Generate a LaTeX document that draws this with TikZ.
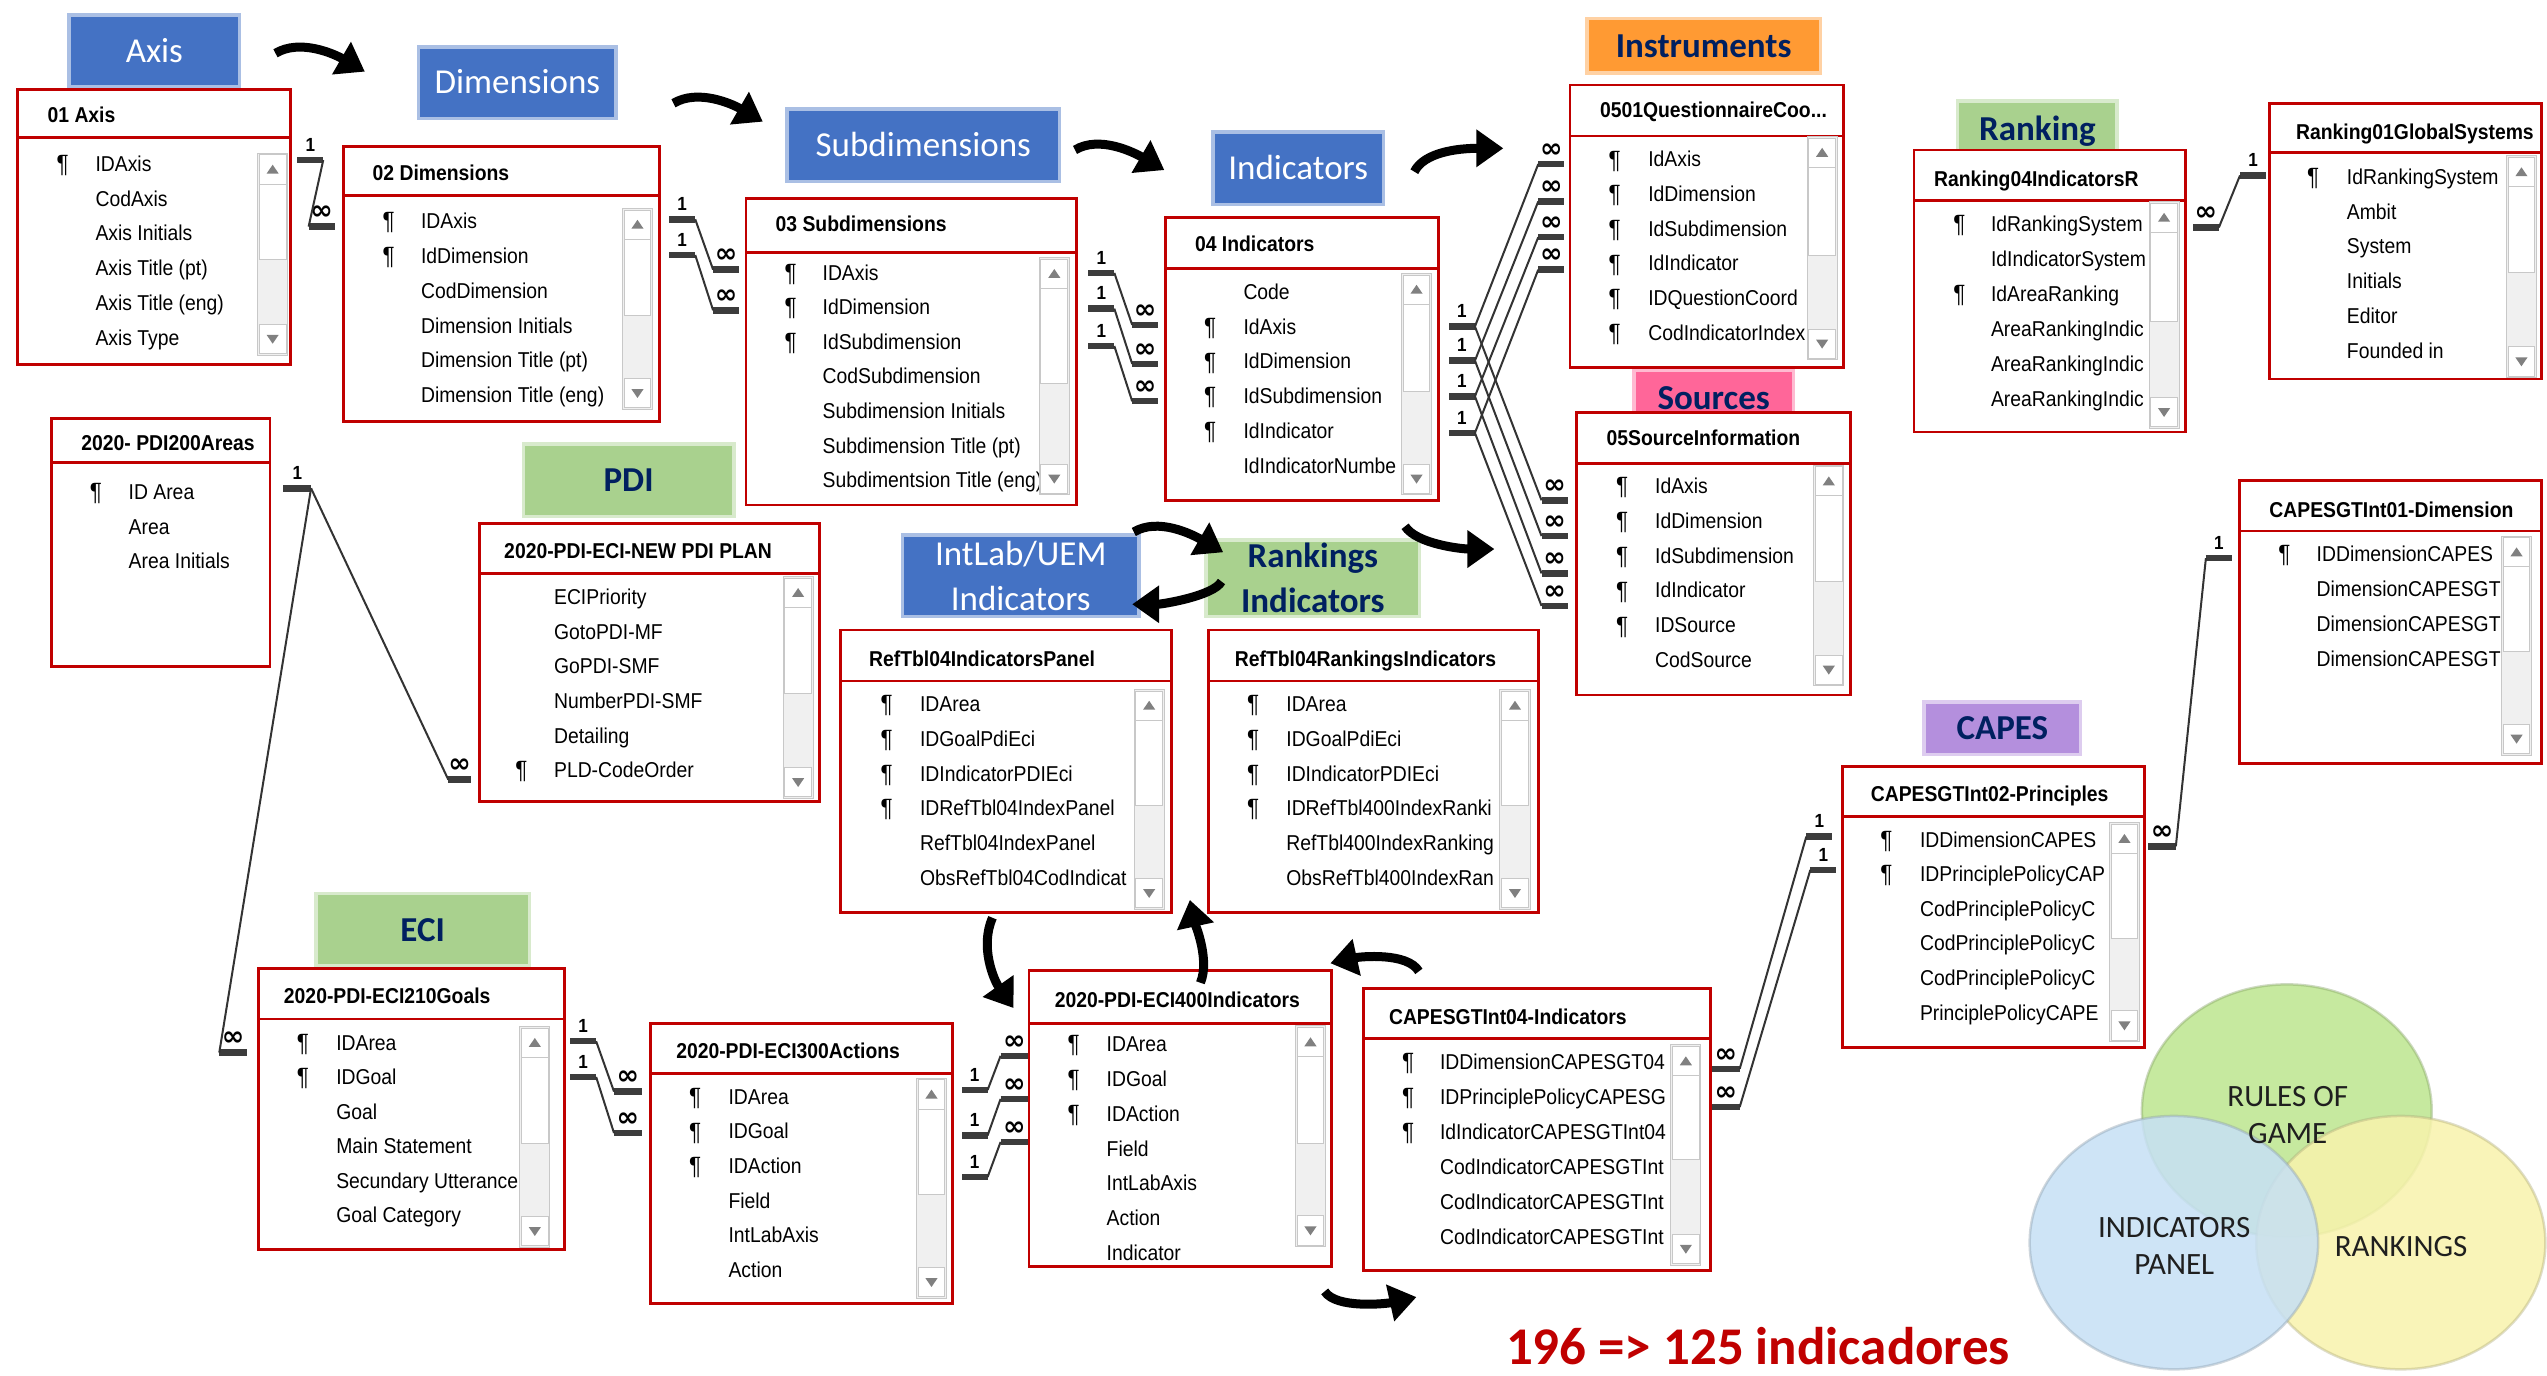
\documentclass[tikz,border=0pt]{standalone}
\usepackage{fontspec}
\usepackage{tikz}
\usetikzlibrary{arrows.meta}

\newfontfamily\tblfont[FakeStretch=0.9]{Liberation Sans}
\newfontfamily\bannerfont{Carlito}
\newfontfamily\symfont{DejaVu Sans}

\definecolor{tblred}{HTML}{C00000}
\definecolor{barblue}{HTML}{4472C4}
\definecolor{bargreen}{HTML}{A9D18E}
\definecolor{barorange}{HTML}{FF9A33}
\definecolor{barpink}{HTML}{FF6699}
\definecolor{barpurple}{HTML}{B48FDD}
\definecolor{navy}{HTML}{002060}
\definecolor{relgray}{HTML}{333333}
\definecolor{bargray}{HTML}{3C3C3C}
\definecolor{sbgray}{HTML}{F0F0F0}
\definecolor{sbline}{HTML}{C8C8C8}
\definecolor{sbarrowc}{HTML}{808080}
\definecolor{venngreen}{HTML}{BDE68F}
\definecolor{vennblue}{HTML}{C6E0F5}
\definecolor{vennyellow}{HTML}{F8F3AC}
\definecolor{venntext}{HTML}{1F1F1F}

\newcommand{\fldfont}{\tblfont\fontsize{21.5}{25}\selectfont}
\newcommand{\hdrfont}{\tblfont\bfseries\fontsize{21.5}{25}\selectfont}

% scroll bar: x, top, bottom, end of thumb
\newcommand{\scrollbar}[4]{%
  \draw[sbtrack] (#1,#2) rectangle (#1+18.5,#3);
  \draw[sbbtn] (#1+1,#2+1) rectangle (#1+17.5,#2+19);
  \draw[sbbtn] (#1+1,#2+19) rectangle (#1+17.5,#4);
  \draw[sbbtn] (#1+1,#3-19) rectangle (#1+17.5,#3-1);
  \fill[sbarrowc] (#1+9.25,#2+7) -- (#1+5.5,#2+12.5) -- (#1+13,#2+12.5) -- cycle;
  \fill[sbarrowc] (#1+9.25,#3-7) -- (#1+5.5,#3-12.5) -- (#1+13,#3-12.5) -- cycle;
}
% relation ends
\newcommand{\onebar}[2]{\draw[relbar] (#1) -- ++(#2,0) node[midway,relone] (#1-n) {1};}
\newcommand{\manybar}[2]{\draw[relbar] (#1) -- ++(#2,0) node[midway,relmany] (#1-n) {∞};}

\tikzset{
  tblbox/.style={draw=tblred, line width=2.8pt, fill=white},
  tblline/.style={draw=tblred, line width=2.8pt},
  hdr/.style={font=\hdrfont, anchor=west, inner sep=0pt, text height=15.4pt, text depth=0pt},
  fld/.style={font=\fldfont, anchor=west, inner sep=0pt, text height=15.4pt, text depth=0pt},
  pk/.style={font=\tblfont\fontsize{25}{25}\selectfont, inner sep=0pt, text height=17.9pt, text depth=0pt},
  sbtrack/.style={fill=sbgray, draw=sbline, line width=1pt},
  sbbtn/.style={fill=white, draw=sbline, line width=1pt},
  rel/.style={draw=relgray, line width=2pt},
  relbar/.style={draw=bargray, line width=6.5pt},
  relone/.style={above=5.5pt, inner sep=0pt, font=\tblfont\bfseries\fontsize{19}{19}\selectfont},
  relmany/.style={above=3.5pt, inner sep=0pt, font=\symfont\bfseries\fontsize{27}{27}\selectfont},
  banner/.style={fill=#1, draw=#1, draw opacity=.45, line width=7pt, inner sep=0pt, align=center},
  bluebanner/.style={banner=barblue, text=white, font=\bannerfont\fontsize{35}{45}\selectfont},
  navybanner/.style={banner=#1, text=navy, font=\bannerfont\bfseries\fontsize{35}{45}\selectfont},
  oneline/.style={text height=22.5pt, text depth=0pt},
  bigarrow/.style={line width=9pt, -{Triangle[length=27pt,width=36pt]}},
  venn/.style={fill=#1, fill opacity=.85, draw=#1!70!black, draw opacity=.4, line width=2.5pt},
  venntxt/.style={text=venntext, align=center, font=\bannerfont\fontsize{31}{36.7}\selectfont},
}

\begin{document}
\begin{tikzpicture}[x=1.6244pt,y=-1.6244pt]
\useasboundingbox (0,0) rectangle (1568,847);
\fill[white] (0,0) rectangle (1568,847);

% banners
\node[bluebanner, oneline, minimum width=167pt, minimum height=68pt] (axisban) at (95,31.3) {Axis};
\node[bluebanner, oneline, minimum width=194pt, minimum height=68pt] (dimban) at (318.5,50.8) {Dimensions};
\node[bluebanner, oneline, minimum width=269pt, minimum height=69pt] (subban) at (568.4,89.3) {Subdimensions};
\node[bluebanner, oneline, minimum width=167pt, minimum height=69pt] (indban) at (799.2,103.6) {Indicators};
\node[navybanner=barorange, oneline, minimum width=230pt, minimum height=51pt] (instban) at (1048.8,28.2) {Instruments};
\node[navybanner=bargreen, oneline, minimum width=156pt, minimum height=53pt] (rankban) at (1254.3,79.5) {Ranking};
\node[navybanner=barpink, oneline, minimum width=156pt, minimum height=51pt] (srcban) at (1055,245) {Sources};
\node[navybanner=bargreen, oneline, minimum width=207pt, minimum height=69pt] (pdiban) at (387,295.5) {PDI};
\node[navybanner=bargreen, oneline, minimum width=210pt, minimum height=69pt] (eciban) at (260.2,572.5) {ECI};
\node[bluebanner, minimum width=233pt, minimum height=78pt] (intban) at (628.4,354.5) {IntLab/UEM\\Indicators};
\node[navybanner=bargreen, minimum width=210pt, minimum height=73pt] (rkiban) at (808.2,356) {Rankings\\Indicators};
\node[navybanner=barpurple, oneline, minimum width=153pt, minimum height=49pt] (capesban) at (1232.7,448.4) {CAPES};

% 01 Axis
\draw[tblbox] (11,55.2) rectangle (179,224.3);
\draw[tblline] (11,84.8) -- (179,84.8);
\node[hdr] (axis) at (29.2,70.8) {01 Axis};
\begin{scope}
  \clip (11,84.8) rectangle (158.6,224.3);
  \foreach \f [count=\i from 0] in {IDAxis,CodAxis,Axis Initials,Axis Title (pt),Axis Title (eng),Axis Type}
    \node[fld] (axis-\i) at (58.7,100.6+21.5*\i) {\f};
\end{scope}
\foreach \i in {0} \node[pk] (axis-k\i) at (38.6,100.6+21.5*\i) {¶};
\scrollbar{158.6}{94.4}{218.6}{160}

% 02 Dimensions
\draw[tblbox] (211.4,90.3) rectangle (406.1,259.6);
\draw[tblline] (211.4,120.5) -- (406.1,120.5);
\node[hdr] (dims) at (229.3,106.1) {02 Dimensions};
\begin{scope}
  \clip (211.4,120.5) rectangle (383.2,259.6);
  \foreach \f [count=\i from 0] in {IDAxis,IdDimension,CodDimension,Dimension Initials,Dimension Title (pt),Dimension Title (eng)}
    \node[fld] (dims-\i) at (259.1,136+21.45*\i) {\f};
\end{scope}
\foreach \i in {0,1} \node[pk] (dims-k\i) at (239.3,136+21.45*\i) {¶};
\scrollbar{383.2}{128.3}{252}{194}

% 03 Subdimensions
\draw[tblbox] (459.2,122.1) rectangle (662.7,310.9);
\draw[tblline] (459.2,155.5) -- (662.7,155.5);
\node[hdr] (subdims) at (477.4,137.5) {03 Subdimensions};
\begin{scope}
  \clip (459.2,155.5) rectangle (639.8,310.9);
  \foreach \f [count=\i from 0] in {IDAxis,IdDimension,IdSubdimension,CodSubdimension,Subdimension Initials,Subdimension Title (pt),Subdimentsion Title (eng)}
    \node[fld] (subdims-\i) at (506.3,167.7+21.3*\i) {\f};
\end{scope}
\foreach \i in {0,1,2} \node[pk] (subdims-k\i) at (486.8,167.7+21.3*\i) {¶};
\scrollbar{639.8}{158.6}{304.7}{235.8}

% 04 Indicators
\draw[tblbox] (717.4,134) rectangle (885.7,308.2);
\draw[tblline] (717.4,165.2) -- (885.7,165.2);
\node[hdr] (inds) at (735.6,149.8) {04 Indicators};
\begin{scope}
  \clip (717.4,165.2) rectangle (862.8,308.2);
  \foreach \f [count=\i from 0] in {Code,IdAxis,IdDimension,IdSubdimension,IdIndicator,IdIndicatorNumbe}
    \node[fld] (inds-\i) at (765.4,179.5+21.4*\i) {\f};
\end{scope}
\foreach \i in {1,2,3,4} \node[pk] (inds-k\i) at (745,179.5+21.4*\i) {¶};
\scrollbar{862.8}{168.3}{304.7}{241.1}

% 0501 Questionnaire
\draw[tblbox] (966.5,52.3) rectangle (1135,226.4);
\draw[tblline] (966.5,83.7) -- (1135,83.7);
\node[hdr] (quest) at (984.9,67.7) {0501QuestionnaireCoo...};
\begin{scope}
  \clip (966.5,83.7) rectangle (1112.5,226.4);
  \foreach \f [count=\i from 0] in {IdAxis,IdDimension,IdSubdimension,IdIndicator,IDQuestionCoord,CodIndicatorIndex}
    \node[fld] (quest-\i) at (1014.6,98+21.35*\i) {\f};
\end{scope}
\foreach \i in {0,...,5} \node[pk] (quest-k\i) at (994,98+21.35*\i) {¶};
\scrollbar{1112.5}{84}{221.6}{157}

% 05 Source information
\draw[tblbox] (970.7,253.8) rectangle (1139.3,427.9);
\draw[tblline] (970.7,285.2) -- (1139.3,285.2);
\node[hdr] (source) at (989,269.8) {05SourceInformation};
\begin{scope}
  \clip (970.7,285.2) rectangle (1116.6,427.9);
  \foreach \f [count=\i from 0] in {IdAxis,IdDimension,IdSubdimension,IdIndicator,IDSource,CodSource}
    \node[fld] (source-\i) at (1018.8,299.2+21.4*\i) {\f};
\end{scope}
\foreach \i in {0,...,4} \node[pk] (source-k\i) at (998.6,299.2+21.4*\i) {¶};
\scrollbar{1116.6}{286.3}{422.3}{358}

% Ranking 04
\draw[tblbox] (1178.3,92.3) rectangle (1345.6,266);
\draw[tblline] (1178.3,123.5) -- (1345.6,123.5);
\node[hdr] (rank4) at (1190.6,109.8) {Ranking04IndicatorsR};
\begin{scope}
  \clip (1178.3,123.5) rectangle (1323,266);
  \foreach \f [count=\i from 0] in {IdRankingSystem,IdIndicatorSystem,IdAreaRanking,AreaRankingIndic,AreaRankingIndic,AreaRankingIndic}
    \node[fld] (rank4-\i) at (1225.6,137.5+21.55*\i) {\f};
\end{scope}
\foreach \i in {0,2} \node[pk] (rank4-k\i) at (1206.2,137.5+21.55*\i) {¶};
\scrollbar{1323}{124}{263.7}{198}

% Ranking 01
\draw[tblbox] (1397,63.6) rectangle (1564.7,233.3);
\draw[tblline] (1397,94) -- (1564.7,94);
\node[hdr] (rank1) at (1413.4,81) {Ranking01GlobalSystems};
\begin{scope}
  \clip (1397,94) rectangle (1543,233.3);
  \foreach \f [count=\i from 0] in {IdRankingSystem,Ambit,System,Initials,Editor,Founded in}
    \node[fld] (rank1-\i) at (1444.7,108.8+21.4*\i) {\f};
\end{scope}
\foreach \i in {0} \node[pk] (rank1-k\i) at (1424,108.8+21.4*\i) {¶};
\scrollbar{1543}{96}{232.5}{168}

% 2020- PDI200Areas
\draw[tblbox] (31.7,257.5) rectangle (166.2,410.4);
\draw[tblline] (31.7,284.6) -- (166.2,284.6);
\node[hdr] (areas) at (50,272.9) {2020- PDI200Areas};
\foreach \f [count=\i from 0] in {ID Area,Area,Area Initials}
  \node[fld] (areas-\i) at (79.1,302.7+21.4*\i) {\f};
\foreach \i in {0} \node[pk] (areas-k\i) at (59,302.7+21.4*\i) {¶};

% NEW PDI PLAN
\draw[tblbox] (295,322.2) rectangle (504.5,493.5);
\draw[tblline] (295,353) -- (504.5,353);
\node[hdr] (plan) at (310.3,339) {2020-PDI-ECI-NEW PDI PLAN};
\begin{scope}
  \clip (295,353) rectangle (482.1,493.5);
  \foreach \f [count=\i from 0] in {ECIPriority,GotoPDI-MF,GoPDI-SMF,NumberPDI-SMF,Detailing,PLD-CodeOrder}
    \node[fld] (plan-\i) at (341,367.3+21.35*\i) {\f};
\end{scope}
\foreach \i in {5} \node[pk] (plan-k\i) at (321,367.3+21.35*\i) {¶};
\scrollbar{482.1}{355}{491.5}{426.8}

% RefTbl04IndicatorsPanel
\draw[tblbox] (517.6,387.8) rectangle (721.1,561.9);
\draw[tblline] (517.6,419.2) -- (721.1,419.2);
\node[hdr] (refpanel) at (534.9,405.3) {RefTbl04IndicatorsPanel};
\begin{scope}
  \clip (517.6,419.2) rectangle (698.2,561.9);
  \foreach \f [count=\i from 0] in {IDArea,IDGoalPdiEci,IDIndicatorPDIEci,IDRefTbl04IndexPanel,RefTbl04IndexPanel,ObsRefTbl04CodIndicat}
    \node[fld] (refpanel-\i) at (566.3,433.4+21.35*\i) {\f};
\end{scope}
\foreach \i in {0,...,3} \node[pk] (refpanel-k\i) at (545.9,433.4+21.35*\i) {¶};
\scrollbar{698.2}{424.4}{559.8}{495.6}

% RefTbl04RankingsIndicators
\draw[tblbox] (743.8,387.8) rectangle (947,561.9);
\draw[tblline] (743.8,419.2) -- (947,419.2);
\node[hdr] (refrank) at (760.1,405.3) {RefTbl04RankingsIndicators};
\begin{scope}
  \clip (743.8,419.2) rectangle (923.4,561.9);
  \foreach \f [count=\i from 0] in {IDArea,IDGoalPdiEci,IDIndicatorPDIEci,IDRefTbl400IndexRanki,RefTbl400IndexRanking,ObsRefTbl400IndexRan}
    \node[fld] (refrank-\i) at (791.8,433.4+21.35*\i) {\f};
\end{scope}
\foreach \i in {0,...,3} \node[pk] (refrank-k\i) at (771.4,433.4+21.35*\i) {¶};
\scrollbar{923.4}{424.4}{559.8}{495.6}

% CAPESGTInt01-Dimension
\draw[tblbox] (1378.5,295.9) rectangle (1564.7,469.9);
\draw[tblline] (1378.5,326.9) -- (1564.7,326.9);
\node[hdr] (capes1) at (1397,314) {CAPESGTInt01-Dimension};
\begin{scope}
  \clip (1378.5,326.9) rectangle (1540,469.9);
  \foreach \f [count=\i from 0] in {IDDimensionCAPES,DimensionCAPESGT,DimensionCAPESGT,DimensionCAPESGT}
    \node[fld] (capes1-\i) at (1426.1,341+21.45*\i) {\f};
\end{scope}
\foreach \i in {0} \node[pk] (capes1-k\i) at (1406.4,341+21.45*\i) {¶};
\scrollbar{1540}{330}{464.8}{401}

% CAPESGTInt02-Principles
\draw[tblbox] (1134.3,472) rectangle (1320.1,644.7);
\draw[tblline] (1134.3,502.8) -- (1320.1,502.8);
\node[hdr] (capes2) at (1151.6,488.4) {CAPESGTInt02-Principles};
\begin{scope}
  \clip (1134.3,502.8) rectangle (1298.6,644.7);
  \foreach \f [count=\i from 0] in {IDDimensionCAPES,IDPrinciplePolicyCAP,CodPrinciplePolicyC,CodPrinciplePolicyC,CodPrinciplePolicyC,PrinciplePolicyCAPE}
    \node[fld] (capes2-\i) at (1181.9,516.7+21.3*\i) {\f};
\end{scope}
\foreach \i in {0,1} \node[pk] (capes2-k\i) at (1161.3,516.7+21.3*\i) {¶};
\scrollbar{1298.6}{506.4}{641.3}{577.6}

% ECI210Goals
\draw[tblbox] (159,596.1) rectangle (347.5,769.1);
\draw[tblline] (159,627.3) -- (347.5,627.3);
\node[hdr] (goals) at (174.7,613) {2020-PDI-ECI210Goals};
\begin{scope}
  \clip (159,627.3) rectangle (320,769.1);
  \foreach \f [count=\i from 0] in {IDArea,IDGoal,Goal,Main Statement,Secundary Utterance,Goal Category}
    \node[fld] (goals-\i) at (206.9,641.7+21.27*\i) {\f};
\end{scope}
\foreach \i in {0,1} \node[pk] (goals-k\i) at (186.5,641.7+21.27*\i) {¶};
\scrollbar{320}{632}{767.9}{703.8}

% ECI300Actions
\draw[tblbox] (400.5,630) rectangle (586.2,802.3);
\draw[tblline] (400.5,660.7) -- (586.2,660.7);
\node[hdr] (actions) at (416.2,647) {2020-PDI-ECI300Actions};
\begin{scope}
  \clip (400.5,660.7) rectangle (564.2,802.3);
  \foreach \f [count=\i from 0] in {IDArea,IDGoal,IDAction,Field,IntLabAxis,Action}
    \node[fld] (actions-\i) at (448.4,675.1+21.34*\i) {\f};
\end{scope}
\foreach \i in {0,1,2} \node[pk] (actions-k\i) at (428,675.1+21.34*\i) {¶};
\scrollbar{564.2}{663.8}{799.3}{735.6}

% ECI400Indicators
\draw[tblbox] (633.5,597.6) rectangle (819.8,779.8);
\draw[tblline] (633.5,630) -- (819.8,630);
\node[hdr] (eci400) at (649.2,615.2) {2020-PDI-ECI400Indicators};
\begin{scope}
  \clip (633.5,630) rectangle (797.5,779.8);
  \foreach \f [count=\i from 0] in {IDArea,IDGoal,IDAction,Field,IntLabAxis,Action,Indicator}
    \node[fld] (eci400-\i) at (681.2,642.7+21.42*\i) {\f};
\end{scope}
\foreach \i in {0,1,2} \node[pk] (eci400-k\i) at (660.9,642.7+21.42*\i) {¶};
\scrollbar{797.5}{631.6}{767.5}{703.8}

% CAPESGTInt04-Indicators
\draw[tblbox] (839.3,608.4) rectangle (1052.8,782.3);
\draw[tblline] (839.3,639.2) -- (1052.8,639.2);
\node[hdr] (capes4) at (855,625.9) {CAPESGTInt04-Indicators};
\begin{scope}
  \clip (839.3,639.2) rectangle (1028.6,782.3);
  \foreach \f [count=\i from 0] in {IDDimensionCAPESGT04,IDPrinciplePolicyCAPESG,IdIndicatorCAPESGTInt04,CodIndicatorCAPESGTInt,CodIndicatorCAPESGTInt,CodIndicatorCAPESGTInt}
    \node[fld] (capes4-\i) at (886.4,653.6+21.55*\i) {\f};
\end{scope}
\foreach \i in {0,1,2} \node[pk] (capes4-k\i) at (866.9,653.6+21.55*\i) {¶};
\scrollbar{1028.6}{643.3}{778.8}{714}

% relations
\coordinate (ad1) at (199,98.5);
\coordinate (adm) at (190,139.5);
\onebar{ad1}{-16} \manybar{adm}{16}
\draw[rel] (ad1) -- (adm);

\coordinate (ds1a) at (428,135);
\coordinate (ds1b) at (428,157);
\coordinate (dsma) at (439,166);
\coordinate (dsmb) at (439,191);
\onebar{ds1a}{-16} \onebar{ds1b}{-16}
\manybar{dsma}{16} \manybar{dsmb}{16}
\draw[rel] (ds1a) -- (dsma);
\draw[rel] (ds1b) -- (dsmb);

\coordinate (si1a) at (686,168);
\coordinate (si1b) at (686,190);
\coordinate (si1c) at (686,213);
\coordinate (sima) at (697,200);
\coordinate (simb) at (697,224);
\coordinate (simc) at (697,247);
\onebar{si1a}{-16} \onebar{si1b}{-16} \onebar{si1c}{-16}
\manybar{sima}{16} \manybar{simb}{16} \manybar{simc}{16}
\draw[rel] (si1a) -- (sima);
\draw[rel] (si1b) -- (simb);
\draw[rel] (si1c) -- (simc);

\coordinate (ind1a) at (908,201);
\coordinate (ind1b) at (908,222);
\coordinate (ind1c) at (908,244);
\coordinate (ind1d) at (908,266.5);
\coordinate (qstma) at (947,101);
\coordinate (qstmb) at (947,124);
\coordinate (qstmc) at (947,146);
\coordinate (qstmd) at (947,166);
\coordinate (srcma) at (949,308);
\coordinate (srcmb) at (949,330);
\coordinate (srcmc) at (949,353);
\coordinate (srcmd) at (949,373);
\onebar{ind1a}{-16} \onebar{ind1b}{-16} \onebar{ind1c}{-16} \onebar{ind1d}{-16}
\manybar{qstma}{16} \manybar{qstmb}{16} \manybar{qstmc}{16} \manybar{qstmd}{16}
\manybar{srcma}{16} \manybar{srcmb}{16} \manybar{srcmc}{16} \manybar{srcmd}{16}
\draw[rel] (ind1a) -- (qstma);
\draw[rel] (ind1b) -- (qstmb);
\draw[rel] (ind1c) -- (qstmc);
\draw[rel] (ind1d) -- (qstmd);
\draw[rel] (ind1a) -- (srcma);
\draw[rel] (ind1b) -- (srcmb);
\draw[rel] (ind1c) -- (srcmc);
\draw[rel] (ind1d) -- (srcmd);

\coordinate (rkm) at (1366,140);
\coordinate (rk1) at (1379,108);
\manybar{rkm}{-16} \onebar{rk1}{16}
\draw[rel] (rkm) -- (rk1);

\coordinate (ar1) at (191.5,300.6);
\coordinate (arpm) at (276,480);
\coordinate (argm) at (135,648);
\onebar{ar1}{-17} \manybar{arpm}{14} \manybar{argm}{17}
\draw[rel] (ar1) -- (arpm);
\draw[rel] (ar1) -- (argm);

\coordinate (ga1a) at (367,641);
\coordinate (ga1b) at (367,663);
\coordinate (gama) at (378,672);
\coordinate (gamb) at (378,697.5);
\onebar{ga1a}{-16} \onebar{ga1b}{-16}
\manybar{gama}{17} \manybar{gamb}{17}
\draw[rel] (ga1a) -- (gama);
\draw[rel] (ga1b) -- (gamb);

\coordinate (ae1a) at (608,671);
\coordinate (ae1b) at (608,699);
\coordinate (ae1c) at (608,724.6);
\coordinate (aema) at (616,650);
\coordinate (aemb) at (616,676.5);
\coordinate (aemc) at (616,703);
\onebar{ae1a}{-16} \onebar{ae1b}{-16} \onebar{ae1c}{-16}
\manybar{aema}{17} \manybar{aemb}{17} \manybar{aemc}{17}
\draw[rel] (ae1a) -- (aema);
\draw[rel] (ae1b) -- (aemb);
\draw[rel] (ae1c) -- (aemc);

\coordinate (cpma) at (1071,658);
\coordinate (cpmb) at (1071,681.5);
\coordinate (cp1a) at (1112,515);
\coordinate (cp1b) at (1114.5,535.5);
\manybar{cpma}{-17} \manybar{cpmb}{-17}
\onebar{cp1a}{16} \onebar{cp1b}{16}
\draw[rel] (cpma) -- (cp1a);
\draw[rel] (cpmb) -- (cp1b);

\coordinate (cdm) at (1339.5,521);
\coordinate (cd1) at (1358,343.6);
\manybar{cdm}{-17} \onebar{cd1}{16}
\draw[rel] (cdm) -- (cd1);

% curved arrows
\coordinate (a1s) at (169.6,32.8);  \coordinate (a1e) at (224.6,44.1);
\coordinate (a2s) at (414.6,63.6);  \coordinate (a2e) at (469.6,74.9);
\coordinate (a3s) at (661.8,92.3);  \coordinate (a3e) at (716.8,104.7);
\coordinate (a4s) at (870.7,105.7); \coordinate (a4e) at (925.5,91.3);
\coordinate (a5s) at (698,327.5);   \coordinate (a5e) at (753,340);
\coordinate (a6s) at (752,358);     \coordinate (a6e) at (697,372);
\coordinate (a7s) at (865,324);     \coordinate (a7e) at (920,338);
\coordinate (a8s) at (611,565);     \coordinate (a8e) at (624,620.6);
\coordinate (a9s) at (739,605);     \coordinate (a9e) at (732.5,554);
\coordinate (a10s) at (873.5,598);  \coordinate (a10e) at (819,593);
\coordinate (a11s) at (815.5,795);  \coordinate (a11e) at (872,798.5);
\draw[bigarrow] (a1s) .. controls +(15,-9) and +(-19,-11) .. (a1e);
\draw[bigarrow] (a2s) .. controls +(15,-9) and +(-19,-11) .. (a2e);
\draw[bigarrow] (a3s) .. controls +(15,-9) and +(-19,-11) .. (a3e);
\draw[bigarrow] (a4s) .. controls +(6,-12) and +(-28,0) .. (a4e);
\draw[bigarrow] (a5s) .. controls +(15,-9) and +(-19,-11) .. (a5e);
\draw[bigarrow] (a6s) .. controls +(-5,9) and +(18,0) .. (a6e);
\draw[bigarrow] (a7s) .. controls +(7,11) and +(-20,0) .. (a7e);
\draw[bigarrow] (a8s) .. controls +(-8,18) and +(-12,-17) .. (a8e);
\draw[bigarrow] (a9s) .. controls +(6,-14) and +(3,14) .. (a9e);
\draw[bigarrow] (a10s) .. controls +(-7,-12) and +(18,-4) .. (a10e);
\draw[bigarrow] (a11s) .. controls +(7,11) and +(-18,4) .. (a11e);

% venn
\draw[venn=venngreen] (1407.8,683.8) ellipse [x radius=89.2, y radius=77.8];
\draw[venn=vennyellow] (1478,765) ellipse [x radius=89, y radius=78];
\draw[venn=vennblue] (1338.3,765) ellipse [x radius=88.8, y radius=78];
\node[venntxt] (rules) at (1408.4,686.4) {RULES OF\\GAME};
\node[venntxt] (indpanel) at (1338.5,766.9) {INDICATORS\\PANEL};
\node[venntxt] (rankings) at (1478.2,767.5) {RANKINGS};

\node[anchor=base west, inner sep=0pt, text=tblred, font=\bannerfont\bfseries\fontsize{53}{60}\selectfont] (count) at (927,840.3) {196 => 125 indicadores};
\end{tikzpicture}
\end{document}
